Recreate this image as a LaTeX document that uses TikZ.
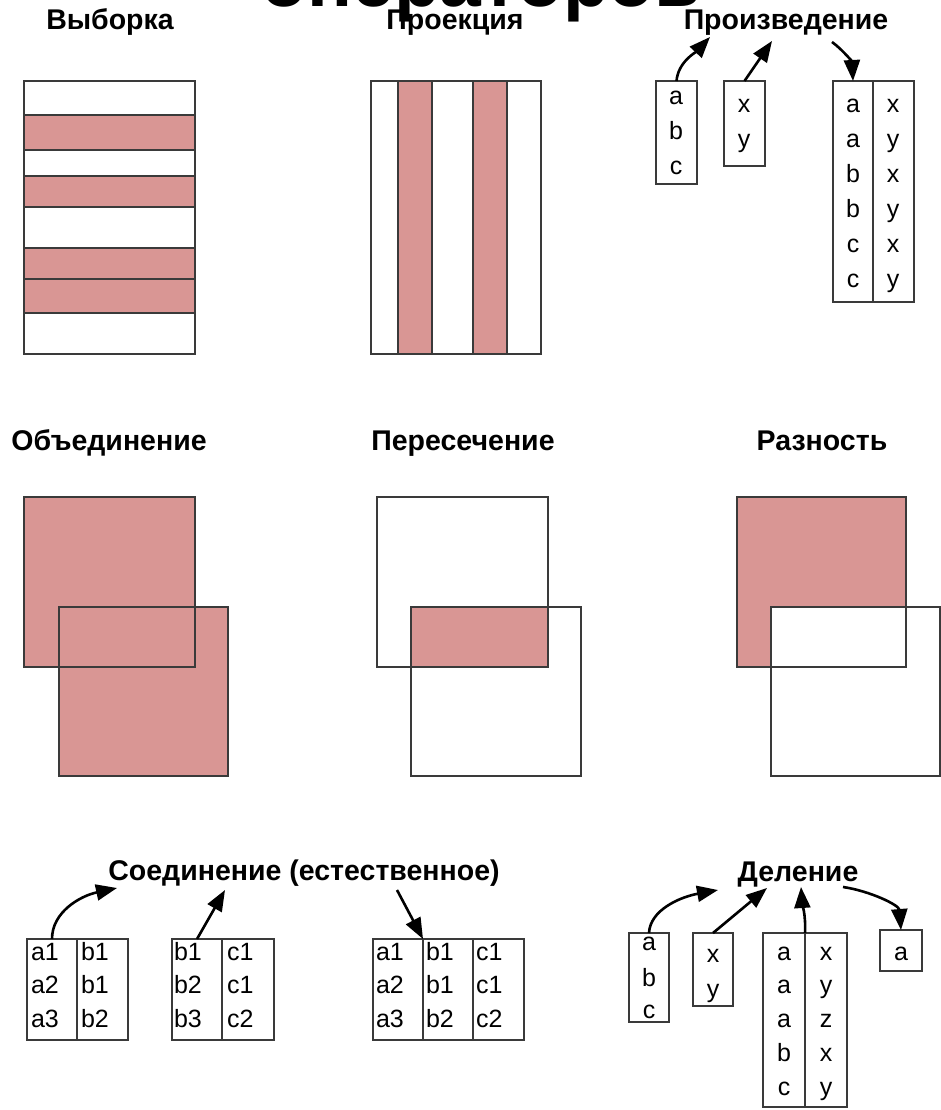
\documentclass[tikz,border=0pt]{standalone}
\usepackage{fontspec}
\setmainfont{Liberation Sans}
\usetikzlibrary{arrows.meta}
\definecolor{rose}{HTML}{D99694}
\definecolor{edge}{HTML}{3A3A3A}
\newcommand\rbox[6]{\pgfmathsetmacro\rw{#4-#2}\pgfmathsetmacro\rh{#5-#3}%
  \node[#6, anchor=north west, minimum width=\rw pt, minimum height=\rh pt] (#1) at (#2,#3) {};}
\tikzset{
  base/.style={inner sep=0pt, outer sep=0pt},
  wbox/.style={base, draw=edge, line width=1.1pt, fill=white},
  pbox/.style={base, draw=edge, line width=1.1pt, fill=rose},
  pfill/.style={base, fill=rose},
  wfill/.style={base, fill=white},
  frame/.style={draw=edge, line width=1.1pt},
  lbl/.style={base, anchor=base, font=\fontsize{28.5}{28.5}\selectfont\bfseries},
  ttl/.style={base, anchor=base, font=\fontsize{75}{75}\selectfont\bfseries},
  txt/.style={base, anchor=base, font=\fontsize{25}{25}\selectfont},
  ltxt/.style={base, anchor=base west, font=\fontsize{25}{25}\selectfont},
  arr/.style={line width=2.6pt, -{Triangle[length=21pt,width=16pt]}},
}
\begin{document}
\begin{tikzpicture}[x=1pt,y=-1pt]
\useasboundingbox[fill=white] (0,0) rectangle (941,1110);
% title (cut off at top)
\node[ttl] (title) at (481,7) {операторов};
% labels
\node[lbl] (lsel) at (110,30) {Выборка};
\node[lbl] (lproj) at (455,30) {Проекция};
\node[lbl] (lprod) at (786,30) {Произведение};
\node[lbl] (luni) at (109,450) {Объединение};
\node[lbl] (lint) at (463,450) {Пересечение};
\node[lbl] (ldif) at (822,450) {Разность};
\node[lbl] (ljoin) at (304,880) {Соединение (естественное)};
\node[lbl] (ldiv) at (798,881) {Деление};

% Выборка
\rbox{sel}{24}{81}{195}{354}{wbox}
\rbox{s1}{24}{115}{195}{150}{pbox}
\rbox{s2}{24}{176}{195}{207}{pbox}
\rbox{s3}{24}{248}{195}{279}{pbox}
\rbox{s4}{24}{279}{195}{313}{pbox}

% Проекция
\rbox{proj}{371}{81}{541}{354}{wbox}
\rbox{c1}{398}{81}{432}{354}{pbox}
\rbox{c2}{473}{81}{507}{354}{pbox}

% Произведение
\rbox{p1}{656}{81}{697}{184}{wbox}
\rbox{p2}{724}{81}{765}{166}{wbox}
\rbox{p3a}{833}{81}{873}{302}{wbox}
\rbox{p3b}{873}{81}{914}{302}{wbox}
\node[txt] at (676,105) {a};
\node[txt] at (676,140) {b};
\node[txt] at (676,175) {c};
\node[txt] at (744,113) {x};
\node[txt] at (744,148) {y};
\foreach \l/\r [count=\i from 0] in {a/x,a/y,b/x,b/y,c/x,c/y}{
  \node[txt] at (853,113+34.8*\i) {\l};
  \node[txt] at (893,113+34.8*\i) {\r};
}
\coordinate (pt1) at (710,37);
\coordinate (pt2) at (772,41);
\coordinate (pt3) at (832,42);
\draw[arr] (p1.north) .. controls (678,62) and (696,52) .. (pt1);
\draw[arr] (p2.north) -- (pt2);
\draw[arr] (pt3) .. controls (843,50) and (852,62) .. (p3a.north);

% Объединение
\rbox{u1}{24}{497}{195}{667}{pfill}
\rbox{u2}{59}{607}{228}{776}{pfill}
\draw[frame] (u1.south west) rectangle (u1.north east);
\draw[frame] (u2.south west) rectangle (u2.north east);

% Пересечение
\rbox{i1}{377}{497}{548}{667}{wfill}
\rbox{i2}{411}{607}{581}{776}{wfill}
\rbox{ix}{411}{607}{548}{667}{pfill}
\draw[frame] (i1.south west) rectangle (i1.north east);
\draw[frame] (i2.south west) rectangle (i2.north east);

% Разность
\rbox{d1r}{737}{497}{906}{667}{pfill}
\rbox{d2r}{771}{607}{940}{776}{wfill}
\draw[frame] (d1r.south west) rectangle (d1r.north east);
\draw[frame] (d2r.south west) rectangle (d2r.north east);

% Соединение
\rbox{j1a}{27}{939}{77}{1040}{wbox}
\rbox{j1b}{77}{939}{128}{1040}{wbox}
\rbox{j2a}{172}{939}{222}{1040}{wbox}
\rbox{j2b}{222}{939}{274}{1040}{wbox}
\rbox{j3a}{373}{939}{423}{1040}{wbox}
\rbox{j3b}{423}{939}{473}{1040}{wbox}
\rbox{j3c}{473}{939}{524}{1040}{wbox}
\foreach \a/\b/\y in {a1/b1/960,a2/b1/993,a3/b2/1027}{
  \node[ltxt] at (31,\y) {\a};
  \node[ltxt] at (81,\y) {\b};
}
\foreach \a/\b/\y in {b1/c1/960,b2/c1/993,b3/c2/1027}{
  \node[ltxt] at (174,\y) {\a};
  \node[ltxt] at (227,\y) {\b};
}
\foreach \a/\b/\c/\y in {a1/b1/c1/960,a2/b1/c1/993,a3/b2/c2/1027}{
  \node[ltxt] at (376,\y) {\a};
  \node[ltxt] at (426,\y) {\b};
  \node[ltxt] at (476,\y) {\c};
}
\coordinate (jt1) at (117,888);
\coordinate (jt2) at (225,890);
\coordinate (jt3) at (397,890);
\draw[arr] (j1a.north) .. controls (52,912) and (80,896) .. (jt1);
\draw[arr] (j2a.north) -- (jt2);
\draw[arr] (jt3) -- (j3a.north east);

% Деление
\rbox{dv1}{629}{933}{669}{1022}{wbox}
\rbox{dv2}{693}{933}{733}{1006}{wbox}
\rbox{dv3a}{763}{933}{805}{1107}{wbox}
\rbox{dv3b}{805}{933}{847}{1107}{wbox}
\rbox{dv4}{880}{930}{922}{971}{wbox}
\node[txt] at (649,950) {a};
\node[txt] at (649,986) {b};
\node[txt] at (649,1018) {c};
\node[txt] at (713,962) {x};
\node[txt] at (713,997) {y};
\foreach \l/\r [count=\i from 0] in {a/x,a/y,a/z,b/x,c/y}{
  \node[txt] at (784,960+33.8*\i) {\l};
  \node[txt] at (826,960+33.8*\i) {\r};
}
\node[txt] at (901,960) {a};
\coordinate (dt1) at (718,890);
\coordinate (dt2) at (767,888);
\coordinate (dt3) at (801,887);
\coordinate (dt4) at (843,887);
\draw[arr] (dv1.north) .. controls (650,910) and (680,897) .. (dt1);
\draw[arr] (dv2.north) -- (dt2);
\draw[arr] (dv3a.north east) .. controls (806,915) and (802,902) .. (dt3);
\draw[arr] (dt4) .. controls (870,891) and (899,905) .. (dv4.north);
\end{tikzpicture}
\end{document}
